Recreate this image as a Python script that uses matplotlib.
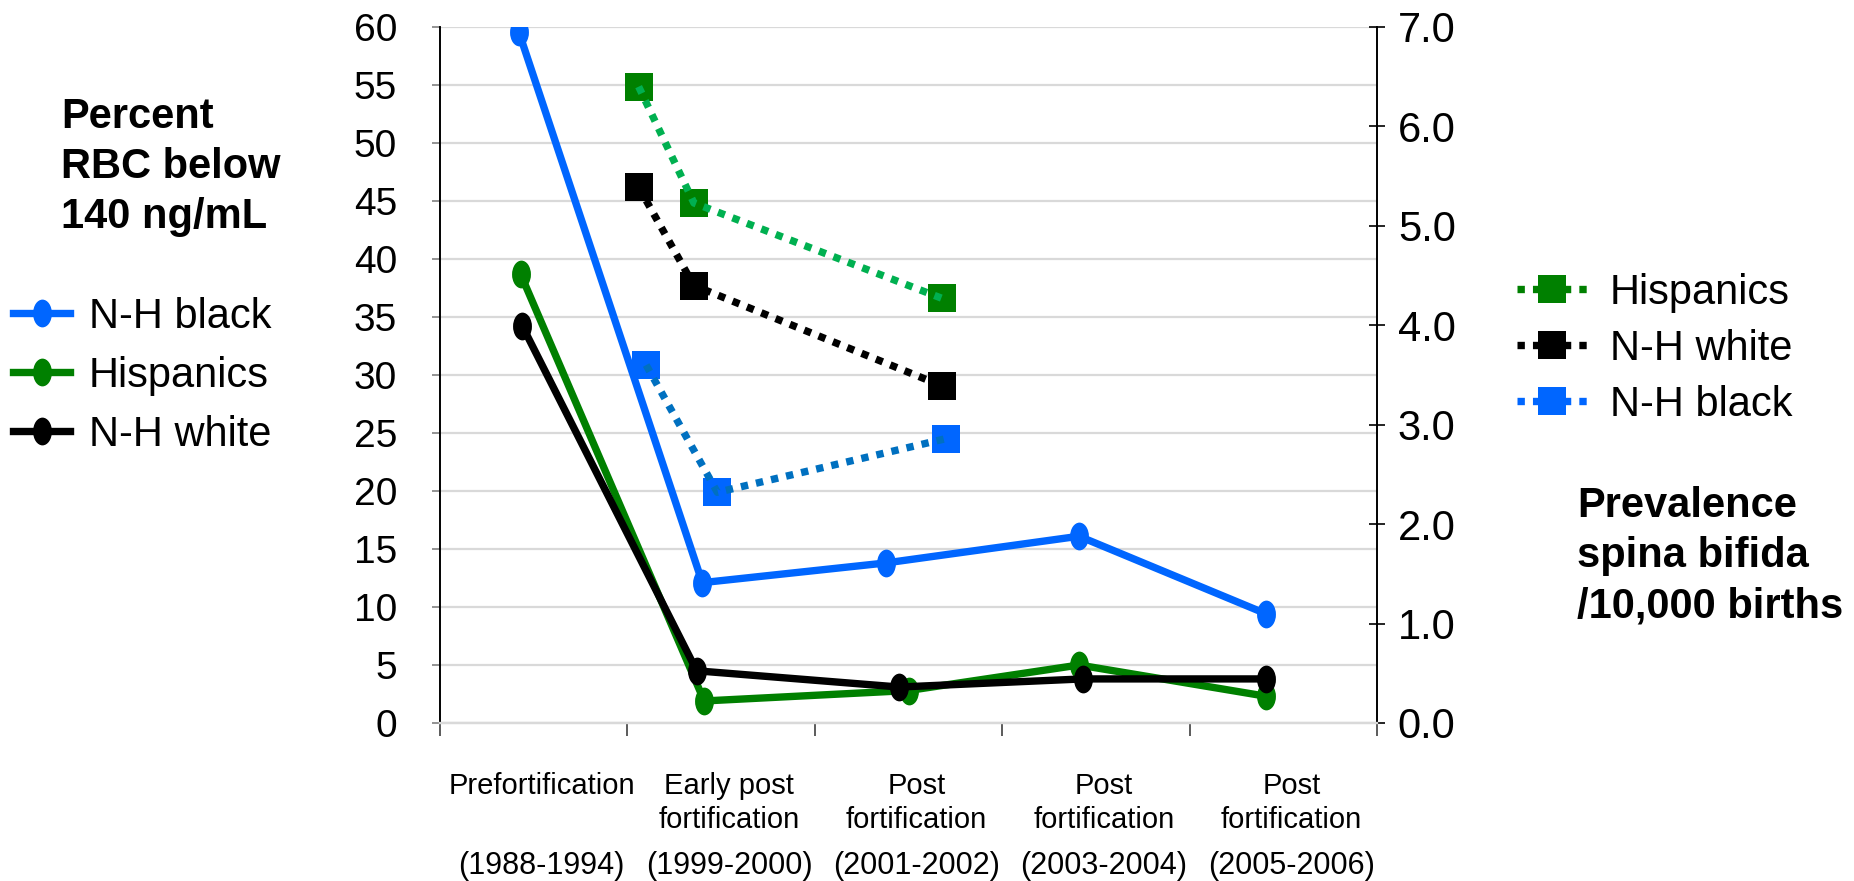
import numpy as np
import matplotlib.pyplot as plt
from matplotlib.lines import Line2D
from matplotlib.path import Path
from matplotlib.transforms import ScaledTranslation

plt.rcParams['font.family'] = ['Liberation Sans', 'DejaVu Sans']

# x axis categories
period_names = ['Prefortification', 'Early post\nfortification', 'Post\nfortification',
                'Post\nfortification', 'Post\nfortification']
period_years = ['(1988-1994)', '(1999-2000)', '(2001-2002)', '(2003-2004)', '(2005-2006)']

# percent RBC folate below 140 ng/mL (left axis); x = position on the period axis
rbc_x_black = [-0.08, 0.90, 1.88, 2.91, 3.91]
rbc_black = [59.6, 12.1, 13.8, 16.1, 9.4]
rbc_x_hisp = [-0.07, 0.91, 2.00, 2.91, 3.91]
rbc_hisp = [38.7, 1.9, 2.8, 5.0, 2.3]
rbc_x_white = [-0.06, 0.87, 1.95, 2.93, 3.91]
rbc_white = [34.2, 4.5, 3.1, 3.8, 3.8]

# spina bifida prevalence per 10,000 births (right axis)
sb_x_hisp = [0.56, 0.855, 2.18]
sb_hisp = [6.40, 5.23, 4.27]
sb_x_white = [0.56, 0.855, 2.18]
sb_white = [5.39, 4.40, 3.39]
sb_x_black = [0.60, 0.98, 2.20]
sb_black = [3.60, 2.32, 2.86]

BLUE = '#0066FF'
BLUE_DOT = '#0070C0'
GREEN = '#008000'
GREEN_DOT = '#00B050'
BLACK = '#000000'
GRID = '#D9D9D9'

# tall ellipse marker, like the original
circ = Path.unit_circle()
ellipse = Path(circ.vertices * [0.68, 1.0], circ.codes)

LW = 5.3
DOTS = (0, (1, 1.1))

W, H = 1854, 881
fig = plt.figure(figsize=(W / 100, H / 100), dpi=100)
ax = fig.add_axes([440 / W, 1 - 723 / H, (1377 - 440) / W, (723 - 27) / H])
ax2 = ax.twinx()

# solid lines, left axis
solid = [(rbc_x_black, rbc_black, BLUE, 'N-H black'),
         (rbc_x_hisp, rbc_hisp, GREEN, 'Hispanics'),
         (rbc_x_white, rbc_white, BLACK, 'N-H white')]
left_handles = []
for xs, ys, c, lab in solid:
    ax.plot(xs, ys, color=c, lw=LW, marker=ellipse, ms=20, mec=c, mew=0,
            solid_joinstyle='round', zorder=3)
    left_handles.append(Line2D([], [], color=c, lw=LW, marker=ellipse, ms=20, mew=0, label=lab))

# dotted lines with squares, right axis (line drawn over the markers)
dotted = [(sb_x_hisp, sb_hisp, GREEN, GREEN_DOT, 'Hispanics'),
          (sb_x_white, sb_white, BLACK, BLACK, 'N-H white'),
          (sb_x_black, sb_black, BLUE, BLUE_DOT, 'N-H black')]
right_handles = []
for xs, ys, mc, lc, lab in dotted:
    ax2.plot(xs, ys, ls='none', marker='s', ms=19.5, mfc=mc, mec=mc, mew=0, zorder=3)
    ax2.plot(xs, ys, color=lc, lw=LW, ls=DOTS, dash_capstyle='butt', zorder=4)
    right_handles.append(Line2D([], [], color=mc, lw=LW, ls=DOTS, dash_capstyle='butt',
                                marker='s', ms=19.5, mew=0, label=lab))

# left axis
ax.set_xlim(-0.5, 4.5)
ax.set_ylim(0, 60)
ax.set_yticks(np.arange(0, 61, 5))
ax.yaxis.grid(True, color=GRID, lw=1.6)
ax.set_axisbelow(True)
ax.tick_params(axis='y', labelsize=28, length=6, width=1.2, color='#808080', pad=25)

# right axis
ax2.set_ylim(0, 7)
ax2.set_yticks(np.arange(0, 7.1, 1))
ax2.set_yticklabels([f'{v:.1f}' for v in np.arange(0, 7.1, 1)])
ax2.tick_params(axis='y', labelsize=30, length=12, width=1.2, direction='inout', pad=9)

# category axis: ticks at boundaries, names and years in between
ax.set_xticks(np.arange(-0.5, 5, 1))
ax.set_xticklabels([])
ax.tick_params(axis='x', which='major', length=9, width=1.2, color='#404040')
ax.set_xticks(np.arange(5), minor=True)
ax.set_xticklabels(period_names, minor=True, fontsize=21, linespacing=1.25)
ax.tick_params(axis='x', which='minor', length=0, pad=35.5)

years_ax = ax.secondary_xaxis('bottom')
years_ax.set_xticks(np.arange(5))
years_ax.set_xticklabels(period_years, fontsize=22)
years_ax.tick_params(axis='x', length=0, pad=92)
years_ax.spines['bottom'].set_visible(False)

# the original labels sit a little right of the category centres
nudge = ScaledTranslation(8 / 100, 0, fig.dpi_scale_trans)
for lbl in ax.get_xticklabels(minor=True) + years_ax.get_xticklabels():
    lbl.set_transform(lbl.get_transform() + nudge)

for a in (ax, ax2):
    a.spines['top'].set_visible(False)
    a.spines['bottom'].set_color(GRID)
    a.spines['bottom'].set_linewidth(1.6)
    a.spines['left'].set_linewidth(1.2)
    a.spines['right'].set_linewidth(1.2)

# axis titles
for txt, yb in zip(['Percent', 'RBC below', '140 ng/mL'], [128, 178, 228]):
    fig.text(61 / W, 1 - yb / H, txt, fontsize=30, fontweight='bold', va='baseline')
for txt, yb in zip(['Prevalence', 'spina bifida', '/10,000 births'], [517, 567, 618]):
    fig.text(1577 / W, 1 - yb / H, txt, fontsize=30, fontweight='bold', va='baseline')

# legends
fig.legend(handles=left_handles, loc='upper left', bbox_to_anchor=(13 / W, 1 - 297 / H),
           frameon=False, fontsize=30, handlelength=1.37, handletextpad=0.45,
           labelspacing=0.45, borderpad=0, borderaxespad=0, numpoints=1)
fig.legend(handles=right_handles, loc='upper left', bbox_to_anchor=(1517 / W, 1 - 273 / H),
           frameon=False, fontsize=30, handlelength=1.68, handletextpad=0.55,
           labelspacing=0.38, borderpad=0, borderaxespad=0, numpoints=1)

fig.savefig('out.png', dpi=100)
